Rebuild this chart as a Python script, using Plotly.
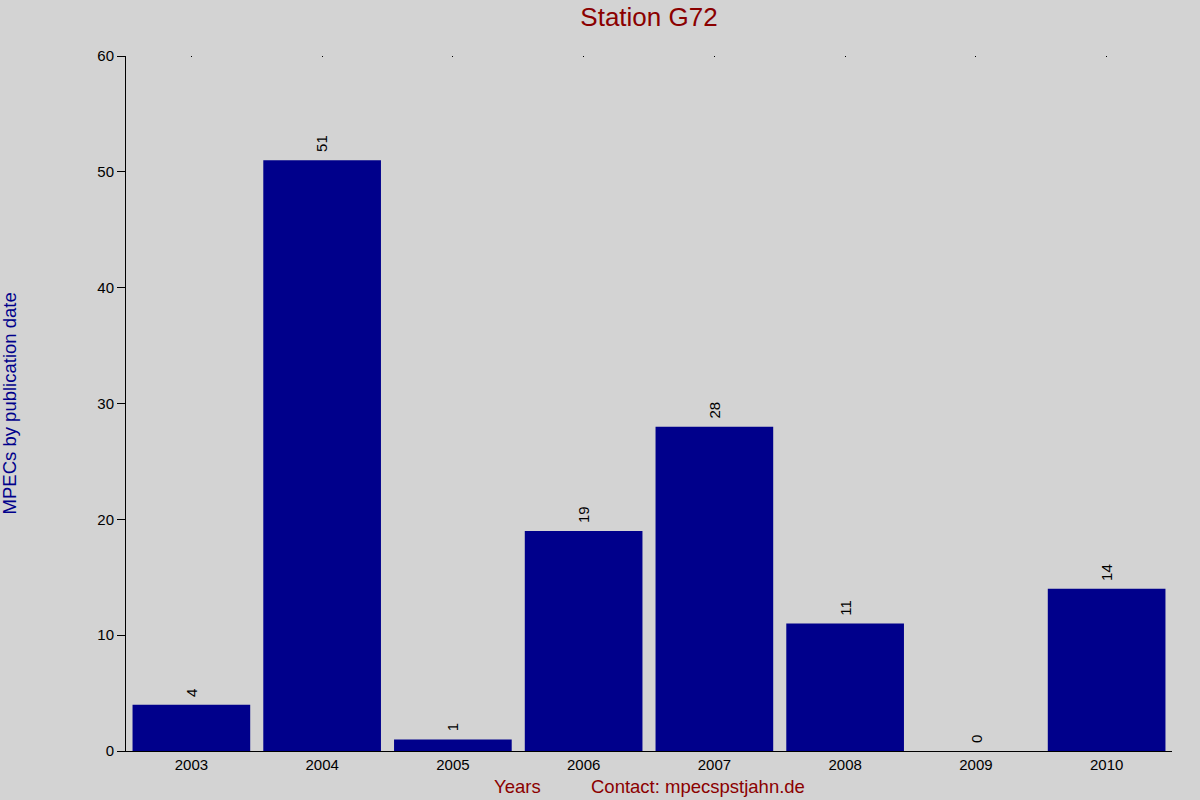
import plotly.graph_objects as go

years = ["2003", "2004", "2005", "2006", "2007", "2008", "2009", "2010"]
mpecs = [4, 51, 1, 19, 28, 11, 0, 14]

fig = go.Figure()
fig.add_trace(go.Bar(
    x=years,
    y=mpecs,
    width=0.9,
    marker=dict(color="#00008B", line=dict(width=0)),
    cliponaxis=False,
))
# little tick dots along the top edge
fig.add_trace(go.Scatter(x=years, y=[None] * len(years), xaxis="x2", showlegend=False))

# value labels above the bars, rotated (x as category index)
value_labels = [
    dict(x=i, y=v, xref="x", yref="y", text=str(v), textangle=-90,
         showarrow=False, yanchor="bottom", yshift=6,
         font=dict(size=15, color="black"))
    for i, v in enumerate(mpecs)
]

fig.update_layout(
    width=1200,
    height=800,
    paper_bgcolor="#D3D3D3",
    plot_bgcolor="#D3D3D3",
    margin=dict(l=126, r=28, t=56, b=49),
    showlegend=False,
    font=dict(family="Liberation Sans, Arial", size=15, color="black"),
    title=dict(text="Station G72", xref="paper", x=0.5, xanchor="center", y=0.979, yanchor="middle",
               font=dict(size=26, color="#8B0000")),
    xaxis=dict(
        type="category",
        range=[-0.5, 7.5],
        showline=True, linecolor="black", linewidth=1,
        ticks="", showgrid=False, zeroline=False,
        tickfont=dict(size=15),
    ),
    xaxis2=dict(
        type="category", overlaying="x", side="top", matches="x",
        range=[-0.5, 7.5],
        ticks="inside", ticklen=1, tickcolor="black",
        showticklabels=False, showline=False, showgrid=False,
    ),
    yaxis=dict(
        range=[0, 60],
        tickvals=[0, 10, 20, 30, 40, 50, 60],
        showline=True, linecolor="black", linewidth=1,
        ticks="outside", ticklen=8, tickcolor="black",
        showgrid=False, zeroline=False,
        tickfont=dict(size=15),
    ),
    bargap=0.1,
    annotations=value_labels + [
        dict(text="MPECs by publication date", xref="paper", yref="paper",
             x=-0.111, y=0.5, xanchor="center", yanchor="middle", textangle=-90,
             showarrow=False, font=dict(size=18.5, color="#00008B")),
        dict(text="Years", xref="paper", yref="paper", x=0.374, y=-0.0504,
             xanchor="center", yanchor="middle", showarrow=False,
             font=dict(size=18.5, color="#8B0000")),
        dict(text="Contact: mpecspstjahn.de", xref="paper", yref="paper", x=0.547, y=-0.0504,
             xanchor="center", yanchor="middle", showarrow=False,
             font=dict(size=18.5, color="#8B0000")),
    ],
)

fig.write_html("out.html", config={"displayModeBar": False},
               post_script="document.body.style.margin='0';")
